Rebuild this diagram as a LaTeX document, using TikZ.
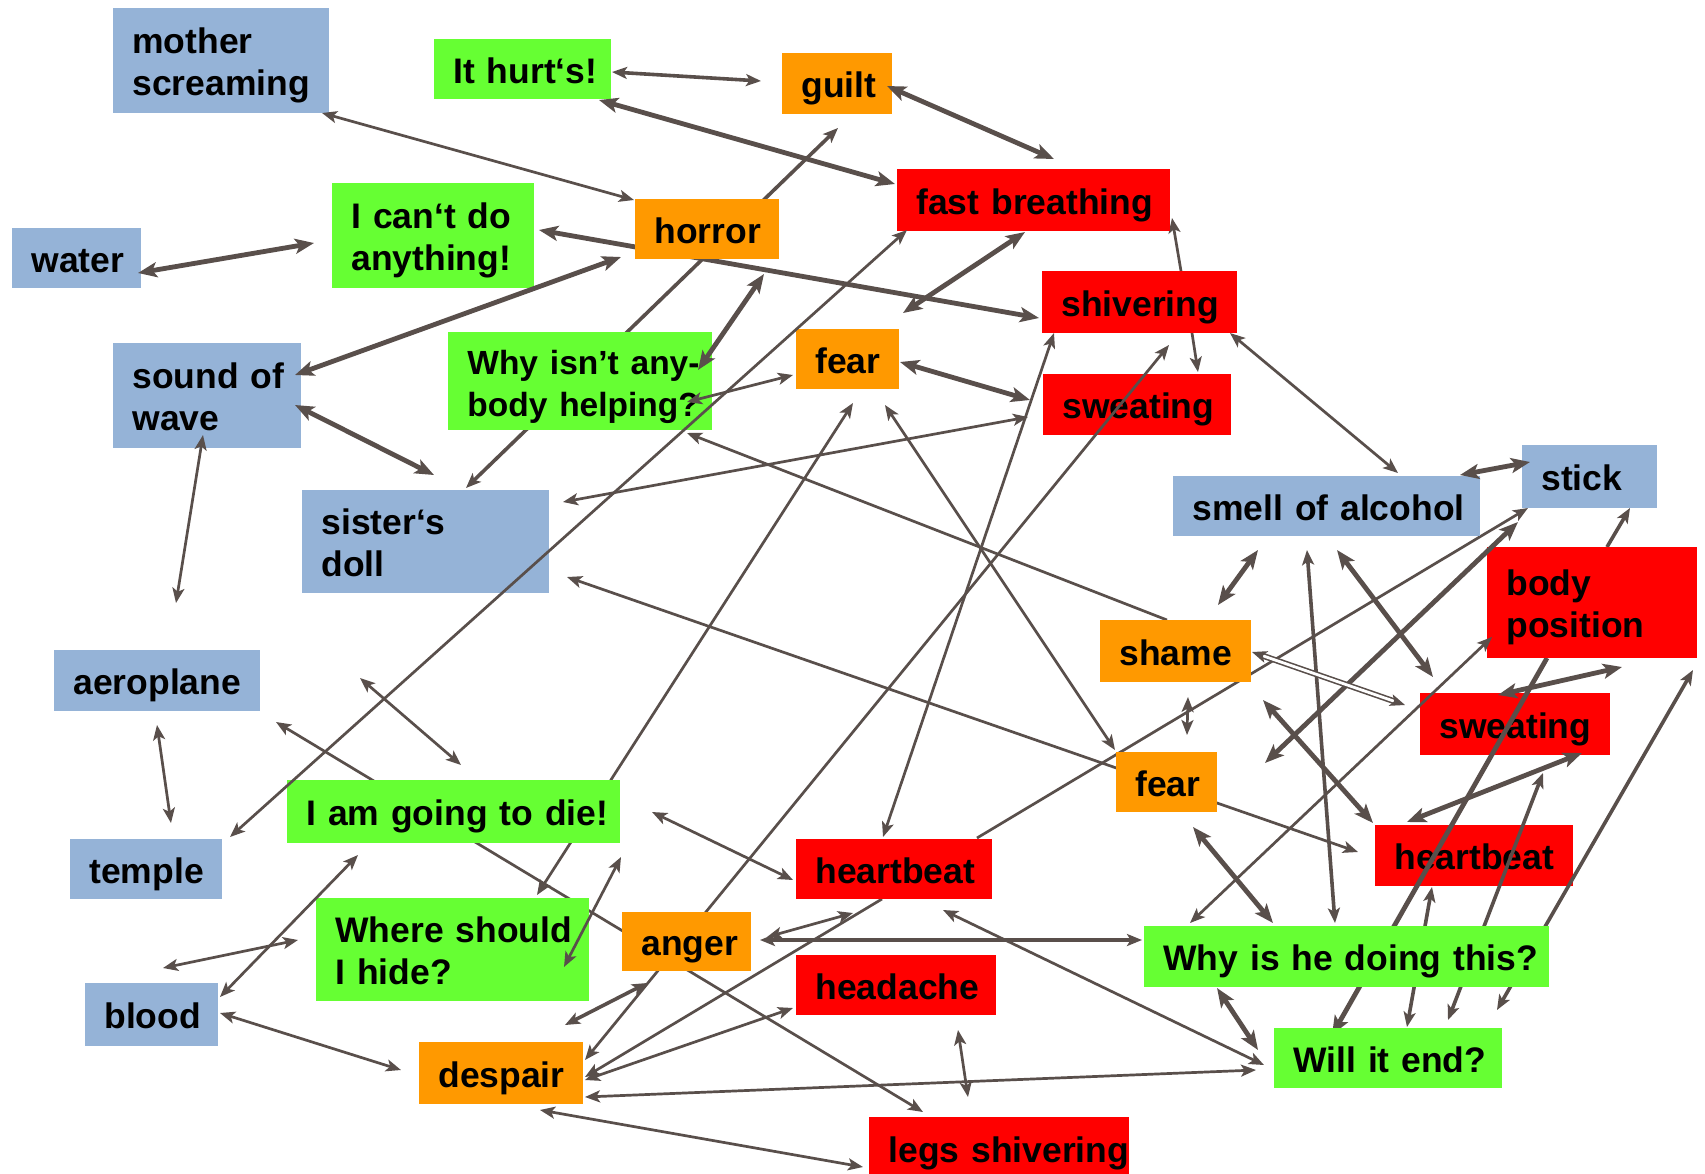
\documentclass[tikz,border=0pt]{standalone}
\usepackage{fontspec}
\setmainfont{Liberation Sans}
\usetikzlibrary{arrows.meta}
\definecolor{cblue}{HTML}{95B3D7}
\definecolor{cgreen}{HTML}{66FF33}
\definecolor{corange}{HTML}{FF9900}
\definecolor{cred}{HTML}{FF0000}
\definecolor{lc}{HTML}{594F4B}
\newcommand\tl[1]{\raisebox{0pt}[14pt][0pt]{#1}}
\newcommand\mybox[7]{%
  \pgfmathsetmacro\bxw{(#4-#2)*0.5-19}%
  \pgfmathsetmacro\bxh{(#5-#3)*0.5}%
  \node[bx, fill=#6, text width=\bxw pt, minimum height=\bxh pt, anchor=north west] (#1) at (#2,#3) {#7};%
}
\newcommand\arr[4]{%
  \coordinate (#1a) at (#3);\coordinate (#1b) at (#4);\draw[#2] (#1a) -- (#1b);%
}
\tikzset{
  tS/.tip={Stealth[length=7.5pt,width=6pt,inset=1.8pt]},
  tL/.tip={Stealth[length=9.5pt,width=7.5pt,inset=2.2pt]},
  bx/.style={inner xsep=9.5pt, inner ysep=0pt, align=left, text=black,
    font=\fontsize{17.75}{21}\selectfont\bfseries},
  a1/.style={draw=lc, line width=1.35pt, tS-tS},
  a2/.style={draw=lc, line width=1.8pt, tS-tS},
  a3/.style={draw=lc, line width=2.4pt, tL-tL},
  a1e/.style={draw=lc, line width=1.35pt, -tS},
  a2e/.style={draw=lc, line width=1.8pt, -tS},
  a3e/.style={draw=lc, line width=2.4pt, -tL},
  dbl/.style={draw=lc, line width=0.8pt, double=white, double distance=1.4pt, tS-tS},
}
\begin{document}
\begin{tikzpicture}[x=0.5pt,y=-0.5pt]
\useasboundingbox (0,0) rectangle (1705,1174);
\fill[white] (0,0) rectangle (1705,1174);
% boxes lying under the connectors
\mybox{sweatT}{1043}{374}{1231}{435}{cred}{\tl{sweating}}
\mybox{sweatR}{1420}{693}{1610}{755}{cred}{\tl{sweating}}
\mybox{heartR}{1375}{825}{1573}{886}{cred}{\tl{heartbeat}}
% connectors that pass behind boxes
\arr{r5}{a2}{466,488}{838,128}
\arr{r7}{a3}{539,230}{1039,318}
\arr{r15}{a1}{567,577}{1358,852}
\arr{r16}{a1e}{1167,620}{687,433}
\arr{r18}{a1e}{1181,271}{1172,218}
\arr{r19}{a1e}{1192,333}{1198,372}
\arr{r23}{a1}{1169,345}{585,1060}
\arr{r24}{a1}{853,403}{537,895}
\arr{r30}{a1e}{977,838}{1528,508}
\arr{r33}{a2e}{1607,547}{1630,508}
\arr{r36}{a3e}{1547,658}{1332,1035}
\arr{r38}{a2}{1432,887}{1407,1027}
\arr{r39}{a2}{1543,773}{1448,1020}
\arr{r40}{a2}{1693,670}{1497,1010}
\arr{r49}{a1e}{882,899}{585,1077}
\arr{r54}{a1}{276,722}{923,1112}
% boxes over those connectors
\mybox{mother}{113}{8}{329}{113}{cblue}{\tl{mother}\\\tl{screaming}}
\mybox{hurt}{434}{39}{611}{99}{cgreen}{\tl{It hurt‘s!}}
\mybox{guilt}{782}{53}{892}{114}{corange}{\tl{guilt}}
\mybox{water}{12}{228}{141}{288}{cblue}{\tl{water}}
\mybox{cant}{332}{183}{534}{288}{cgreen}{\tl{I can‘t do}\\\tl{anything!}}
\mybox{horror}{635}{199}{779}{259}{corange}{\tl{horror}}
\mybox{fast}{897}{169}{1170}{231}{cred}{\tl{fast breathing}}
\mybox{shiv}{1042}{271}{1237}{333}{cred}{\tl{shivering}}
\mybox{sound}{113}{343}{301}{448}{cblue}{\tl{sound of}\\\tl{wave}}
\mybox{whyisnt}{448}{332}{712}{430}{cgreen}{\fontsize{16.75}{21}\selectfont\tl{Why isn’t any-}\\\tl{body helping?}}
\mybox{fearT}{796}{329}{899}{389}{corange}{\tl{fear}}
\mybox{doll}{302}{490}{549}{593}{cblue}{\tl{sister‘s}\\\tl{doll}}
\mybox{smell}{1173}{476}{1480}{536}{cblue}{\tl{smell of alcohol}}
\mybox{stick}{1522}{445}{1657}{508}{cblue}{\tl{stick}}
\mybox{body}{1487}{547}{1697}{658}{cred}{\tl{body}\\\tl{position}}
\mybox{shame}{1100}{620}{1251}{682}{corange}{\tl{shame}}
\mybox{aero}{54}{650}{260}{711}{cblue}{\tl{aeroplane}}
\mybox{fearL}{1116}{752}{1217}{812}{corange}{\tl{fear}}
\mybox{die}{287}{780}{620}{843}{cgreen}{\tl{I am going to die!}}
\mybox{temple}{70}{839}{222}{899}{cblue}{\tl{temple}}
\mybox{heartC}{796}{839}{992}{899}{cred}{\tl{heartbeat}}
\mybox{where}{316}{898}{589}{1001}{cgreen}{\tl{Where should}\\\tl{I hide?}}
\mybox{anger}{622}{912}{751}{971}{corange}{\tl{anger}}
\mybox{whyhe}{1144}{926}{1549}{987}{cgreen}{\tl{Why is he doing this?}}
\mybox{headache}{796}{955}{996}{1015}{cred}{\tl{headache}}
\mybox{blood}{85}{983}{218}{1046}{cblue}{\tl{blood}}
\mybox{despair}{419}{1042}{583}{1104}{corange}{\tl{despair}}
\mybox{will}{1274}{1028}{1502}{1088}{cgreen}{\tl{Will it end?}}
\mybox{legs}{869}{1117}{1129}{1180}{cred}{\tl{legs shivering}}
% connectors drawn over the boxes
\arr{r1}{a2}{612,72}{761,81}
\arr{r2}{a3}{599,100}{895,184}
\arr{r3}{a3}{887,86}{1054,159}
\arr{r4}{a1}{322,113}{634,200}
\arr{r6}{a3}{138,273}{314,243}
\arr{r8}{a3}{295,375}{621,257}
\arr{r9}{a3}{764,274}{698,370}
\arr{r10}{a1}{687,402}{793,375}
\arr{r11}{a1}{230,837}{907,230}
\arr{r12}{a3}{295,405}{434,475}
\arr{r13}{a1}{203,435}{176,603}
\arr{r14}{a1}{563,502}{1028,417}
\arr{r17}{a3}{1025,232}{903,313}
\arr{r20}{a1}{1230,333}{1398,473}
\arr{r21}{a3}{900,362}{1030,400}
\arr{r22}{a1}{1054,333}{883,837}
\arr{r25}{a1}{885,405}{1115,750}
\arr{r26}{a3}{1460,475}{1530,462}
\arr{r27}{a3}{1258,550}{1218,605}
\arr{r28}{a2}{1307,550}{1335,923}
\arr{r29}{a3}{1337,550}{1433,677}
\arr{r31}{a3}{1518,522}{1265,763}
\arr{r32}{dbl}{1252,652}{1405,705}
\arr{r34}{a1}{1492,637}{1190,923}
\arr{r35}{a3}{1622,667}{1498,695}
\arr{r37}{a3}{1582,753}{1407,822}
\arr{r41}{a1}{1188,697}{1187,735}
\arr{r42}{a3}{1263,700}{1373,823}
\arr{r43}{a3}{1193,827}{1273,923}
\arr{r44}{a3}{1217,988}{1258,1050}
\arr{r45}{a2}{760,940}{1142,940}
\arr{r46}{a1}{943,910}{1264,1065}
\arr{r47}{a1}{652,812}{793,880}
\arr{r48}{a1}{767,937}{853,913}
\arr{r50}{a1}{585,1080}{793,1008}
\arr{r51}{a1}{585,1097}{1256,1070}
\arr{r52}{a1}{540,1110}{863,1167}
\arr{r53}{a2}{647,983}{565,1025}
\arr{r55}{a1}{360,678}{461,765}
\arr{r56}{a1}{157,725}{171,823}
\arr{r57}{a1}{163,968}{298,940}
\arr{r58}{a1}{220,997}{358,855}
\arr{r59}{a1}{220,1013}{401,1070}
\arr{r60}{a1}{621,857}{564,967}
\arr{r61}{a1}{958,1030}{968,1097}
\end{tikzpicture}
\end{document}
